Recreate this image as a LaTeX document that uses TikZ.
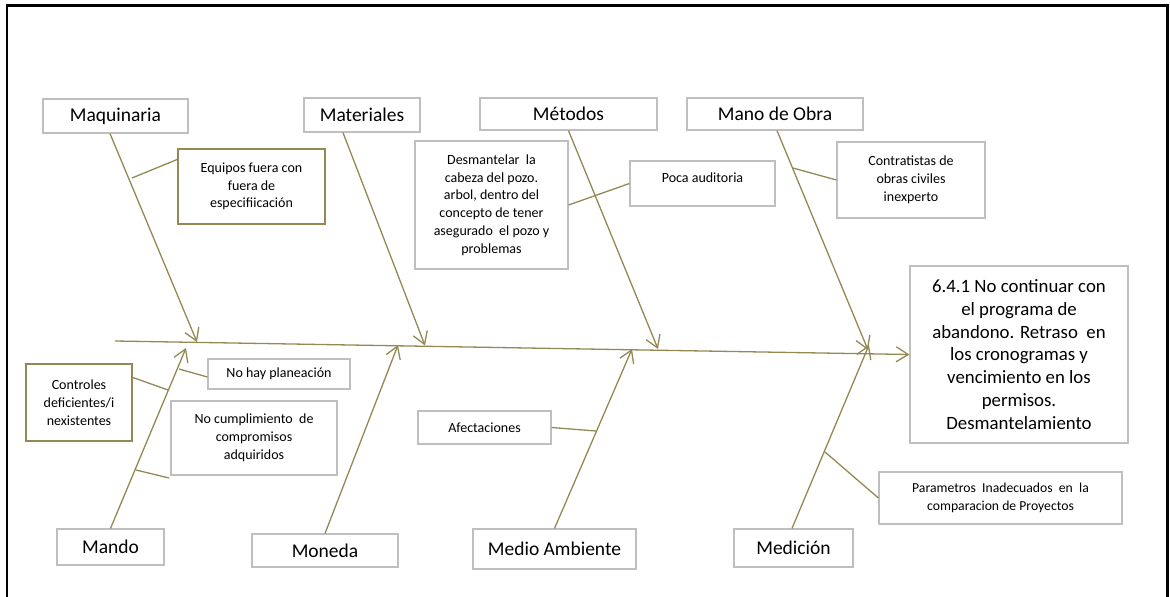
\documentclass[tikz,border=0pt]{standalone}
\usepackage{fontspec}
\setmainfont{Carlito}
\usetikzlibrary{arrows.meta,calc}
\definecolor{bone}{HTML}{938953}
\definecolor{boxgray}{HTML}{BFBFBF}

\begin{document}
\begin{tikzpicture}[x=1pt,y=-1pt,
  bonestyle/.style={draw=bone, line width=1.3pt,
    -{Straight Barb[length=12pt,width=15pt,line width=1.3pt]}},
  twig/.style={draw=bone, line width=1.3pt},
  catbox/.style={draw=boxgray, line width=1.2pt, inner sep=0pt,
    font=\fontsize{19.5}{22}\selectfont},
  causebox/.style={draw=boxgray, line width=1.2pt, inner sep=0pt, align=center,
    font=\fontsize{14}{17.8}\selectfont},
  olivebox/.style={causebox, draw=bone},
  effectbox/.style={draw=boxgray, line width=1.2pt, inner sep=0pt, align=center,
    font=\fontsize{18.8}{22.7}\selectfont},
]
\useasboundingbox (0,0) rectangle (1170,597);

% outer frame, open at the bottom
\draw[line width=2.6pt, black] (7,597) -- (7,5.5) -- (1167.5,5.5) -- (1167.5,597);

% category boxes
\node[catbox, minimum width=145pt, minimum height=34pt] (mq) at (115.5,116) {Maquinaria};
\node[catbox, minimum width=116pt, minimum height=34pt] (mt) at (362,115) {Materiales};
\node[catbox, minimum width=177pt, minimum height=32pt] (me) at (568.5,114) {Métodos};
\node[catbox, minimum width=176pt, minimum height=32pt] (mo) at (775,114) {Mano de Obra};
\node[catbox, minimum width=107pt, minimum height=36pt] (md) at (110.5,547) {Mando};
\node[catbox, minimum width=146pt, minimum height=33pt] (mn) at (325,550.5) {Moneda};
\node[catbox, minimum width=163pt, minimum height=40pt] (ma) at (554.5,549) {Medio Ambiente};
\node[catbox, minimum width=119pt, minimum height=38pt] (mc) at (793.5,548) {Medición};

% cause boxes
\node[olivebox, minimum width=147pt, minimum height=75pt] (eq) at (251.5,186.5)
  {Equipos fuera con\\fuera de\\especifiicación};
\node[causebox, minimum width=153pt, minimum height=128pt] (ds) at (491.5,205)
  {Desmantelar\ \ la\\cabeza del pozo.\\arbol, dentro del\\concepto de tener\\asegurado\ \ el pozo y\\problemas};
\node[causebox, minimum width=145pt, minimum height=45pt] (pa) at (702.5,183.5) {};
\node[font=\fontsize{14}{17.8}\selectfont] (patext) at ($(pa.north)+(0,17)$) {Poca auditoria};
\node[causebox, minimum width=148pt, minimum height=76pt] (co) at (911,180)
  {Contratistas de\\obras civiles\\inexperto};
\node[olivebox, minimum width=106pt, minimum height=77pt] (ct) at (79,402.5)
  {Controles\\deficientes/i\\nexistentes};
\node[causebox, minimum width=142pt, minimum height=30pt] (nh) at (279,374) {No hay planeación};
\node[causebox, minimum width=166pt, minimum height=74pt] (nc) at (254,438)
  {No cumplimiento\ \ de\\compromisos\\adquiridos};
\node[causebox, minimum width=133pt, minimum height=33pt] (af) at (484.5,427.5) {Afectaciones};
\node[causebox, minimum width=243pt, minimum height=52pt, font=\fontsize{13.7}{18}\selectfont] (pr) at (1000.5,498)
  {Parametros\ \ Inadecuados\ \ en\ \ la\\comparacion de Proyectos};

% effect
\node[effectbox, minimum width=218pt, minimum height=177pt] (ef) at (1019,354.5)
  {6.4.1 No continuar con\\el programa de\\abandono. Retraso\ \ en\\los cronogramas y\\vencimiento en los\\permisos.\\Desmantelamiento};

% spine
\coordinate (tail) at (115,341);
\draw[bonestyle] (tail) -- (ef.west);

% points where the bones meet the spine
\coordinate (jmq) at (197,342);
\coordinate (jmt) at (425,345.5);
\coordinate (jme) at (658,349);
\coordinate (jmo) at (868,350);
\coordinate (jmd) at (186,348);
\coordinate (jmn) at (398,345);
\coordinate (jma) at (632,349);
\coordinate (jmc) at (869,345);

% bones
\draw[bonestyle] ([xshift=-5.5pt]mq.south) -- (jmq);
\draw[bonestyle] ([xshift=-19pt]mt.south) -- (jmt);
\draw[bonestyle] (me.south) -- (jme);
\draw[bonestyle] ([xshift=2pt]mo.south) -- (jmo);
\draw[bonestyle] (md.north) -- (jmd);
\draw[bonestyle] (mn.north) -- (jmn);
\draw[bonestyle] (ma.north) -- (jma);
\draw[bonestyle] ([xshift=-1.5pt]mc.north) -- (jmc);

% sub-causes
\coordinate (bq) at (132,178);
\draw[twig] (bq) -- ($(eq.north west)+(0,11)$);
\draw[twig] (ds.east) -- (pa.west);
\coordinate (bo) at (793,168);
\draw[twig] (bo) -- (co.west);
\coordinate (bc) at (168,390);
\draw[twig] ($(ct.north east)+(0,14)$) -- (bc);
\coordinate (bh) at (179,369);
\draw[twig] (bh) -- ($(nh.west)+(0,3)$);
\coordinate (bn) at (136,470);
\coordinate (en) at (169,478);
\draw[twig] (bn) -- (en);
\coordinate (ba) at (596,431);
\draw[twig] (af.east) -- (ba);
\coordinate (bm) at (825,452);
\draw[twig] (bm) -- (pr.west);
\end{tikzpicture}
\end{document}
